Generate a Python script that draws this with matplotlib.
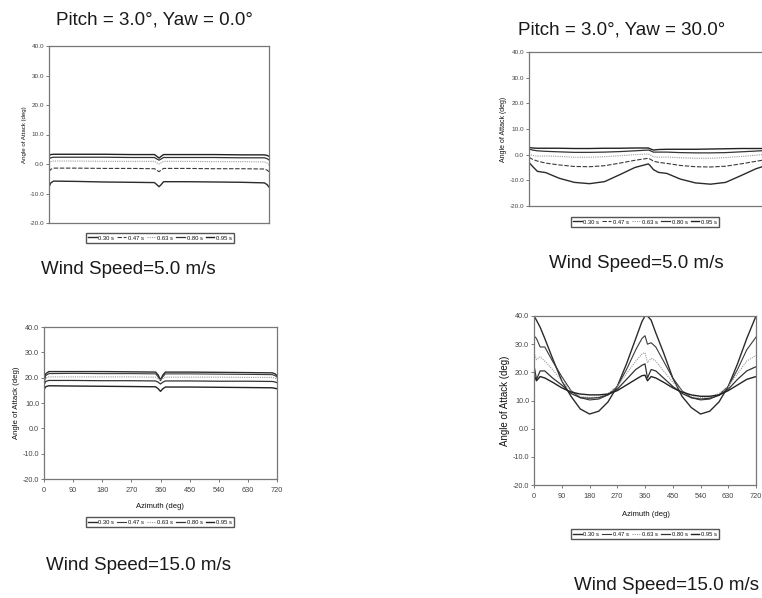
import matplotlib
matplotlib.use("Agg")
import matplotlib.pyplot as plt

plt.rcParams["font.family"] = ["Liberation Sans", "DejaVu Sans"]

labels = ["0.30 s", "0.47 s", "0.63 s", "0.80 s", "0.95 s"]

# Pitch 3.0, Yaw 0.0, wind 5 m/s
az1 = [0, 6, 15, 90, 180, 270, 345, 353, 360, 367, 375, 450, 540, 630, 705, 714, 720]
p1 = [
    [-7.8, -6.4, -5.8, -5.9, -6.1, -6.2, -6.3, -7.0, -7.7, -7.0, -6.0, -6.0, -6.1, -6.2, -6.4, -7.0, -7.8],
    [-2.6, -1.8, -1.4, -1.4, -1.5, -1.5, -1.6, -2.1, -2.6, -2.1, -1.5, -1.5, -1.6, -1.6, -1.7, -2.1, -2.6],
    [0.2, 0.8, 1.0, 1.0, 0.9, 0.9, 0.9, 0.4, 0.0, 0.4, 0.9, 0.9, 0.8, 0.8, 0.7, 0.3, -0.2],
    [1.7, 2.1, 2.3, 2.3, 2.3, 2.2, 2.2, 1.7, 1.3, 1.7, 2.2, 2.2, 2.2, 2.1, 2.1, 1.8, 1.4],
    [2.9, 3.2, 3.3, 3.3, 3.3, 3.2, 3.2, 2.6, 2.0, 2.6, 3.2, 3.2, 3.2, 3.1, 3.1, 2.9, 2.6],
]

# Pitch 3.0, Yaw 30.0, wind 5 m/s
az2 = [0, 10, 25, 50, 90, 135, 180, 225, 270, 315, 355, 360, 370, 385, 410, 450, 495, 540, 585, 630, 675, 715, 720]
p2 = [
    [-3.0, -4.5, -6.5, -7.0, -9.2, -10.8, -11.3, -10.5, -7.8, -5.0, -3.6, -4.2, -5.8, -6.9, -7.3, -9.5, -11.0, -11.5, -10.8, -8.2, -5.5, -3.8, -4.0],
    [-1.0, -1.8, -2.5, -3.3, -4.0, -4.6, -4.7, -4.3, -3.3, -2.2, -1.4, -1.7, -2.5, -3.0, -3.4, -4.2, -4.7, -4.8, -4.5, -3.6, -2.6, -1.7, -1.7],
    [0.3, -0.3, -0.6, -0.5, -0.7, -1.0, -1.0, -0.8, -0.4, 0.0, 0.3, 0.0, -0.8, -1.0, -0.9, -1.2, -1.4, -1.4, -1.1, -0.7, -0.2, 0.2, 0.3],
    [2.2, 1.8, 1.5, 1.3, 1.1, 0.9, 0.9, 1.0, 1.2, 1.5, 1.8, 1.6, 1.0, 1.0, 1.0, 0.8, 0.7, 0.7, 0.8, 1.1, 1.4, 1.7, 1.8],
    [2.8, 2.6, 2.5, 2.5, 2.5, 2.4, 2.4, 2.5, 2.5, 2.6, 2.6, 2.3, 1.8, 2.0, 2.1, 2.1, 2.1, 2.2, 2.3, 2.4, 2.4, 2.4, 2.4],
]

# Pitch 3.0, Yaw 0.0, wind 15 m/s
az3 = [0, 5, 15, 90, 180, 270, 345, 353, 360, 367, 375, 450, 540, 630, 705, 714, 720]
p3 = [
    [18.4, 21.5, 22.4, 22.4, 22.4, 22.3, 22.2, 21.0, 19.1, 21.0, 22.2, 22.2, 22.1, 22.0, 21.9, 21.5, 20.8],
    [17.8, 20.8, 21.6, 21.7, 21.6, 21.6, 21.5, 20.3, 18.8, 20.3, 21.5, 21.5, 21.4, 21.3, 21.2, 20.8, 20.2],
    [17.5, 19.8, 20.3, 20.3, 20.3, 20.3, 20.2, 19.6, 19.0, 19.6, 20.2, 20.2, 20.2, 20.1, 20.1, 19.8, 19.4],
    [17.0, 18.5, 18.9, 18.9, 18.8, 18.8, 18.7, 18.2, 17.5, 18.2, 18.7, 18.7, 18.6, 18.6, 18.5, 18.3, 18.0],
    [15.2, 16.4, 16.8, 16.7, 16.6, 16.5, 16.4, 15.6, 14.6, 15.6, 16.3, 16.3, 16.2, 16.1, 16.0, 15.8, 15.6],
]

# Pitch 3.0, Yaw 30.0, wind 15 m/s
az4 = [0, 8, 20, 35, 60, 90, 120, 150, 180, 210, 240, 270, 300, 330, 350, 360, 368, 380, 395,
       420, 450, 480, 510, 540, 570, 600, 630, 660, 690, 720]
p4 = [
    [40, 38.5, 36, 32, 25, 17, 11.5, 7, 5.2, 6.2, 9.5, 15, 23, 32, 38, 40, 40, 38.5, 34,
     27, 18, 11.5, 7.5, 5.2, 6.2, 9.5, 15, 23, 32, 40],
    [33, 32, 29, 29, 24, 18.5, 13.5, 11, 10.2, 10.5, 12, 15, 21, 28, 32, 33, 30, 30.5, 29,
     24, 18, 13.5, 11, 10.2, 10.5, 12, 15, 21, 28, 32.5],
    [27, 24.5, 25.5, 24, 21, 17, 13.5, 11.5, 11, 11.2, 12.5, 15, 19.5, 24, 26.5, 27, 23.5, 25, 24,
     20.5, 16.5, 13.5, 11.5, 11, 11.2, 12.5, 15, 19.5, 24, 26],
    [22.5, 17.5, 20.5, 20.5, 18, 15.5, 12.5, 11, 10.8, 11, 12, 14, 17.5, 21, 22.5, 23, 18, 21, 20.5,
     18, 15, 12.5, 11, 10.5, 10.8, 11.8, 14, 17.5, 20.5, 22],
    [19, 17, 18.5, 18, 16.5, 14.5, 13, 12.3, 12, 12, 12.3, 13.5, 15.5, 17.5, 18.8, 19, 17, 18.5, 18,
     16.5, 14.5, 13, 12, 11.5, 11.5, 12, 13.5, 15.5, 17.5, 18.5],
]

W, H = 762, 598
fig = plt.figure(figsize=(W / 100, H / 100), dpi=100)


def px(x0, y0, x1, y1):
    # pixel box -> figure fraction rect
    return [x0 / W, 1 - y1 / H, (x1 - x0) / W, (y1 - y0) / H]


def panel(rect, az, series, dashed47, show_x, leg_xy, tick_fs, ylab_fs, xlab_xy=None):
    ax = fig.add_axes(px(*rect))
    styles = [
        dict(color="#2b2b2b", lw=1.0, ls="-"),
        dict(color="#3a3a3a", lw=0.8, ls=(0, (4, 1.5)) if dashed47 else "-"),
        dict(color="#9a9a9a", lw=0.8, ls=(0, (1, 1))),
        dict(color="#333333", lw=0.9, ls="-"),
        dict(color="#222222", lw=1.0, ls="-"),
    ]
    lines = []
    for s, lab, st in zip(series, labels, styles):
        ln, = ax.plot(az, s, label=lab, **st)
        lines.append(ln)
    ax.set_xlim(0, 720)
    ax.set_ylim(-20, 40)
    ax.set_yticks(range(-20, 41, 10))
    ax.set_yticklabels(["%.1f" % v for v in range(-20, 41, 10)], fontsize=tick_fs, color="#111")
    ax.set_ylabel("Angle of Attack (deg)", fontsize=ylab_fs, color="#111", labelpad=2)
    ax.tick_params(axis="y", length=2, width=0.5, pad=1.5, colors="#444")
    if show_x:
        ax.set_xticks(range(0, 721, 90))
        ax.set_xticklabels([str(v) for v in range(0, 721, 90)], fontsize=5.3, color="#111")
        ax.tick_params(axis="x", length=2, width=0.5, pad=4, colors="#444")
        fig.text(xlab_xy[0] / W, 1 - xlab_xy[1] / H, "Azimuth (deg)", fontsize=5.5,
                 color="#111", ha="center", va="center")
    else:
        ax.set_xticks([])
    for sp in ax.spines.values():
        sp.set_color("#777")
        sp.set_linewidth(0.9)
    leg = ax.legend(handles=lines, loc="center", bbox_to_anchor=(leg_xy[0] / W, 1 - leg_xy[1] / H),
                    bbox_transform=fig.transFigure, ncol=5, fontsize=4.2, frameon=True,
                    fancybox=False, edgecolor="#555", framealpha=1, handlelength=1.5,
                    handletextpad=0.3, columnspacing=0.5, borderpad=0.35, borderaxespad=0)
    for t in leg.get_texts():
        t.set_color("#111")
    return ax


panel((49, 46, 269, 223), az1, p1, True, False, (160, 238), 4.6, 4.4)
panel((529, 52, 771, 206), az2, p2, True, False, (645, 222), 4.6, 5.0)
panel((44, 327, 277, 479), az3, p3, False, True, (160, 522), 5.2, 5.6, (160, 506))
panel((534, 316, 756, 485), az4, p4, False, True, (645, 534), 5.2, 7.0, (646, 515))

big = dict(fontsize=13.5, color="#1a1a1a", ha="center", va="center")
fig.text(154 / W, 1 - 20 / H, "Pitch = 3.0°, Yaw = 0.0°", **big)
fig.text(622 / W, 1 - 30 / H, "Pitch = 3.0°, Yaw = 30.0°", **big)
fig.text(128 / W, 1 - 270 / H, "Wind Speed=5.0 m/s", **big)
fig.text(636 / W, 1 - 264 / H, "Wind Speed=5.0 m/s", **big)
fig.text(139 / W, 1 - 566 / H, "Wind Speed=15.0 m/s", **big)
fig.text(666 / W, 1 - 586 / H, "Wind Speed=15.0 m/s", **big)

fig.savefig("out.png", dpi=100)
